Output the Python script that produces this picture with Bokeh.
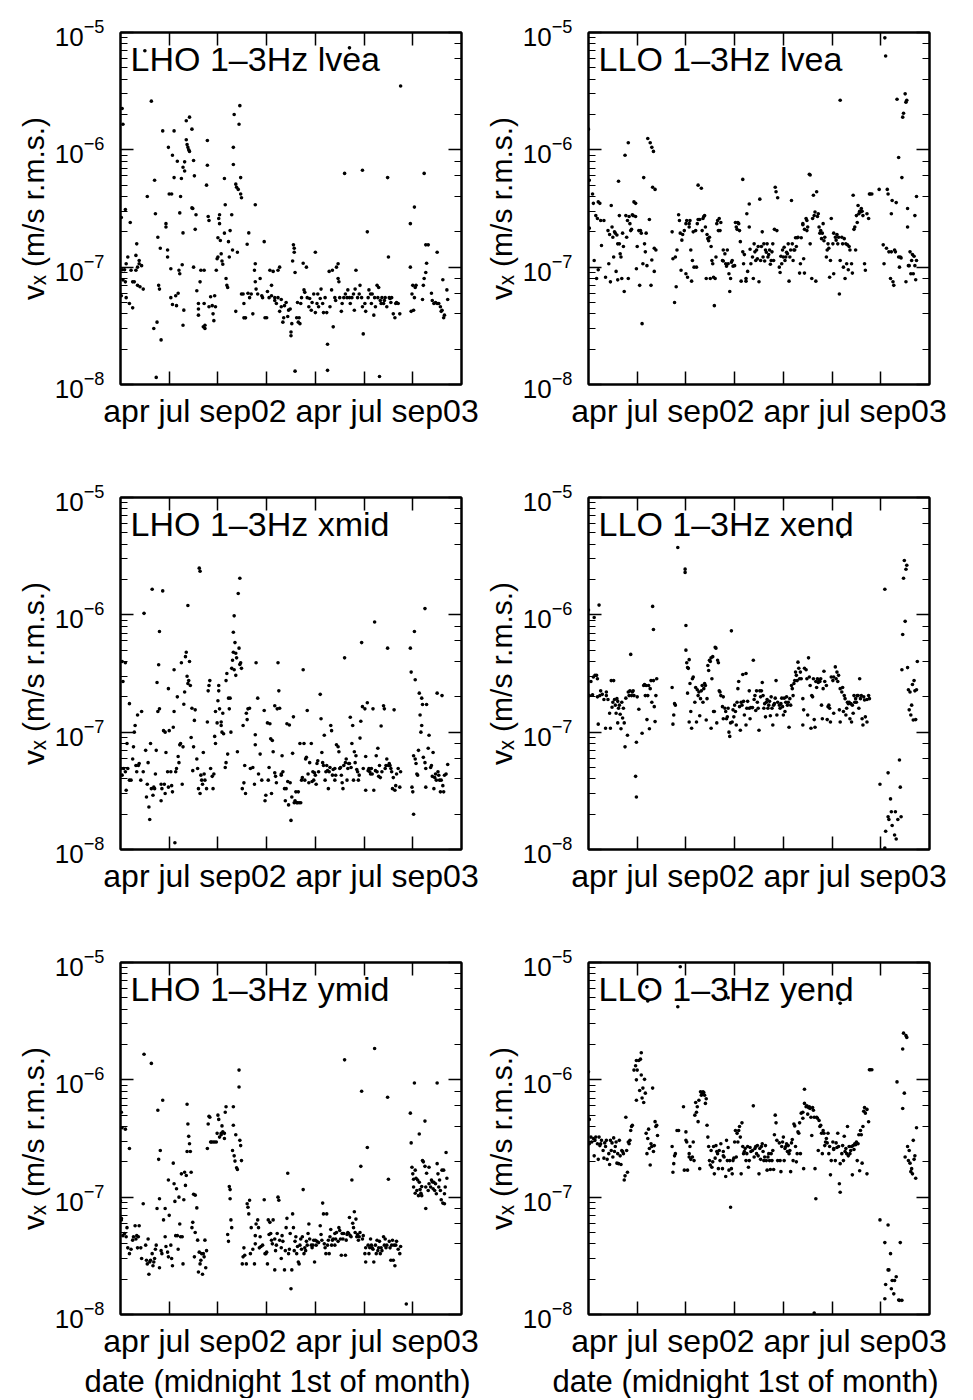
from bokeh.plotting import figure
from bokeh.models import Range1d, LinearAxis, LogAxis, FixedTicker, LogTicker, Label, Title
from bokeh.layouts import column, row
from bokeh.embed import file_html
from bokeh.resources import INLINE

FONT = "Liberation Sans"

# x: months since 1 Jan 2002 ; v: velocity in units of 1e-8 m/s
tick_months = [3, 6, 9, 12, 15, 18]
x_tick_text = "apr jul sep02 apr jul sep03"
x_axis_title = "date (midnight 1st of month)"
y_axis_title = "vₓ (m/s r.m.s.)"
panel_names = ["LHO 1–3Hz lvea", "LLO 1–3Hz lvea", "LHO 1–3Hz xmid",
               "LLO 1–3Hz xend", "LHO 1–3Hz ymid", "LLO 1–3Hz yend"]

lho_lvea = [(0.1,225),(0.15,165),(0.05,26.5),(0.3,31),(0.6,24),(0.1,9.5),(0.25,9.5),(0.35,10.7),(0.15,7.8),(0.3,7.5),
(0.05,5.7),(0.35,5.5),(0.55,4.9),(0.75,4.5),(0.85,7.5),(0.95,9.4),(0.95,12.6),(1.0,15.8),(1.05,10),(1.15,10.7),
(1.3,10.3),(1.15,11.4),(1.05,7),(1.2,6.8),(1.4,6.5),(0.45,12.2),(0.65,9.4),(0.75,7.5),
(1.65,40),(1.9,260),(2.1,55),(2.15,28.5),(2.05,3.0),(2.25,3.4),(2.3,18),(2.35,7),(2.4,6.5),(2.45,14.5),(2.5,2.4),
(2.2,1.15),(2.6,145),(2.8,22),(2.8,23.5),(2.9,14),(2.9,12.2),(2.95,105),(3.0,42),(3.1,9.7),(3.15,42),(3.1,5.5),
(3.2,90),(3.2,4.8),(3.3,145),(3.3,58),(3.4,5.7),(3.45,4.7),(3.5,80),(3.55,6),(3.6,9.4),(3.65,8.8),(3.65,29),
(3.7,40),(3.75,57),(3.8,10.5),(3.85,19.6),(3.85,3.2),(3.85,71),(3.95,79),(3.95,66),(3.9,4.3),(4.05,177),(4.05,122),
(4.1,111),(4.15,105),(4.2,100),(4.25,190),(4.25,97),(4.4,150),(4.4,32),(4.45,31.6),(4.5,10),(4.5,81),(4.55,60),
(4.6,21),(4.65,28),(4.7,6.3),(4.8,4.9),(4.8,4.4),(4.8,3.9),(4.9,7.5),(4.95,9.4),(5.15,9.4),(5.1,3.1),(5.2,3.2),
(5.2,3.0),(5.15,4.9),(5.35,120),(5.35,74),(5.3,50),(5.4,27),(5.45,25),(5.45,4.6),(5.55,5.6),(5.65,4.7),(5.7,4),
(5.75,3.5),(5.8,5.7),(5.85,4.6),(5.9,9.4),(5.95,11.8),(6.0,12.2),(6.0,17.8),(6.05,26),(6.1,28),(6.1,23.5),
(6.15,16.9),(6.2,13),(6.25,11.3),(6.3,10.6),(6.4,19.5),(6.4,57),(6.45,34),(6.5,8),(6.55,7),(6.6,6.7),(6.65,16.5),
(6.7,12.2),(6.75,20.5),(6.85,28),(6.9,14),(6.95,105),(6.95,75),(7.0,200),(7.1,51),(7.15,48),(7.2,13.4),(7.25,46),
(7.3,165),(7.35,238),(7.4,58),(7.4,42),(7.45,39),(7.1,4.2),(7.45,5.9),(7.55,5.9),(7.6,4.9),(7.6,3.7),(7.7,3.7),
(7.8,15.7),(7.85,6),(7.9,19.6),(7.95,5.5),(8.05,5.9),(8.15,4),(8.25,9.4),(8.3,10.7),(8.3,34),(8.3,7.5),(8.35,6.5),
(8.45,5.9),(8.6,8),(8.7,5.7),(8.75,5.5),(8.85,16.5),(8.9,3.7),(9.0,3.7),(9.05,6.2),(9.15,5.5),(9.2,9.4),(9.3,7),
(9.3,5.7),(9.4,9.2),(9.5,5.2),(9.5,5.5),(9.6,4.9),(9.7,9.4),(9.7,5.5),(9.8,10),(9.8,4.2),(9.9,4.6),(9.9,5.3),
(10.0,3.4),(10.05,3.7),(10.1,4.7),(10.2,5.0),(10.3,3.8),(10.35,4.3),(10.45,4.4),(10.5,2.8),(10.5,2.6),(10.55,3.3),
(10.6,11.3),(10.65,15.5),(10.7,14.5),(10.7,13.4),(10.75,9),(10.75,1.3),(10.85,3.7),(10.9,5),(10.95,3.4),(11.0,3.7),
(11.05,3.3),(11.1,4.9),(11.15,5.5),(11.25,10.8),(11.3,6.4),(11.35,6.1),(11.45,10),(11.5,5.5),(11.6,4.6),(11.65,5.4),
(11.75,4.3),(11.8,5),(11.9,5.9),(12.0,4.1),(12.0,13.4),(12.1,4.9),(12.15,5.9),(12.2,4.6),(12.3,5.4),(12.35,6.5),
(12.45,4.9),(12.5,4.1),(12.6,5.5),(12.7,4.1),(12.75,2.2),(12.75,1.32),(12.85,9.2),(12.9,4.6),(13.0,6.4),(13.05,9.4),
(13.1,3.1),(13.2,5.5),(13.25,5.2),(13.3,10),(13.4,10.7),(13.4,8),(13.45,7.5),(13.5,5.5),(13.6,4.2),(13.65,4.9),
(13.75,5.5),(13.8,63),(13.85,5.9),(13.95,5.5),(14.0,6.4),(14.1,5.5),(14.15,4.9),(14.25,5.5),(14.35,5.9),(14.4,4.3),
(14.45,6.5),(14.5,9.4),(14.6,5.5),(14.7,5.9),(14.75,7),(14.85,5.5),(14.9,67),(14.9,4.6),(14.95,2.7),(15.05,4.9),
(15.1,4.2),(15.2,20),(15.25,5.5),(15.3,6.4),(15.4,5.9),(15.45,4.9),(15.5,5.9),(15.6,3.9),(15.65,5.5),(15.7,4.6),
(15.8,7),(15.85,5.5),(15.9,6.7),(15.95,1.17),(16.0,5.2),(16.05,4.9),(16.1,5.5),(16.2,4.9),(16.25,5.2),(16.3,5.5),
(16.4,4.6),(16.45,58),(16.5,12.2),(16.55,5.5),(16.6,5.4),(16.65,5),(16.7,5.5),(16.8,4),(16.9,3.7),(16.95,4.9),
(17.0,5),(17.1,4.9),(17.2,4),(17.25,350),(17.85,23.5),(17.85,10),(17.9,4.2),(17.95,5.9),(18.0,7),(18.05,4.3),
(18.1,32.5),(18.1,5.5),(18.15,6.7),(18.2,7),(18.6,5.3),(18.65,7),(18.7,63),(18.7,8),(18.8,15.5),(18.8,9),
(18.85,10.8),(18.95,15.5),(19.15,6),(19.2,5.2),(19.3,4.9),(19.4,5),(19.5,13.4),(19.5,4.9),(19.6,4.9),(19.7,4.6),
(19.75,4.2),(19.8,4.3),(19.85,7.8),(19.9,3.7),(19.95,3.9),(20.1,6.4),(20.15,5.3),(1.5,700),(14.1,740)]

llo_lvea = [(0.0,150),(0.05,55),(0.05,21.5),(0.25,42),(0.3,35),(0.35,11.4),(0.45,27.5),(0.55,26),(0.6,36),(0.7,35),
(0.75,25),(0.6,9.5),(0.5,8),(0.8,15.3),(0.95,25),(1.05,8.2),(1.2,20.5),(1.25,10.7),(1.3,19),(1.35,7.5),(1.4,33.5),
(1.45,22),(1.5,18),(1.55,12.2),(1.6,20),(1.65,19.5),(1.7,9.2),(1.75,18.8),(1.8,15.8),(1.8,7.8),(1.85,54),(1.9,27.5),
(1.9,15.8),(1.95,13),(2.0,12.2),(2.05,8),(2.1,19.5),(2.15,15),(2.2,6.2),(2.25,90),(2.3,27.5),(2.35,18),(2.4,25),
(2.45,8),(2.45,115),(2.5,27),(2.55,23.5),(2.6,20.5),(2.65,21),(2.7,28),(2.75,27.5),(2.8,36),(2.9,35),(2.9,27),
(2.95,9.7),(3.0,15),(3.1,20.5),(3.15,7),(3.2,20.5),(3.25,19.5),(3.3,3.3),(3.35,10.7),(3.4,58),(3.45,15.8),(3.5,13.5),
(3.55,19.5),(3.6,10.3),(3.65,125),(3.75,25.5),(3.8,115),(3.85,7),(3.9,105),(3.9,11.5),(3.95,48),(4.0,97),(4.05,14.5),
(4.1,46),(4.15,14),(4.05,9.2),(5.15,20),(5.2,11.8),(5.3,5),(5.35,12.2),(5.4,6.8),(5.45,14),(5.55,28),(5.6,25),
(5.65,19.5),(5.7,9.4),(5.75,17),(5.8,19),(5.9,20.5),(6.0,8.8),(6.0,23.5),(6.05,25),(6.1,8.2),(6.2,22),(6.2,23.5),
(6.25,25),(6.3,14),(6.35,7.6),(6.4,11.4),(6.45,20),(6.5,10),(6.6,20.5),(6.65,10),(6.7,23.5),(6.75,50),(6.75,25.5),
(6.85,25.5),(6.95,47),(7.0,20.5),(7.05,26),(7.1,27),(7.15,27.5),(7.2,22),(7.25,8),(7.3,19),(7.35,17.5),(7.4,16.8),
(7.45,18),(7.5,8),(7.55,15),(7.6,11.4),(7.65,10.7),(7.7,8.2),(7.75,4.7),(7.8,8),(7.85,12.2),(7.9,23.5),(7.95,25),
(8.0,20.5),(8.05,26),(8.1,20.5),(8.15,24),(8.25,11.4),(8.3,14),(8.3,11.3),(8.4,13),(8.45,10.7),(8.5,10.2),(8.55,14),
(8.6,10.7),(8.65,8.8),(8.7,6.2),(8.75,8),(8.8,11),(8.85,11.4),(8.9,10.2),(9.0,10.3),(9.05,24),(9.1,22),(9.15,21),
(9.2,24),(9.25,23.5),(9.3,20.5),(9.35,16.5),(9.4,7.6),(9.5,56),(9.5,13.5),(9.55,10.7),(9.6,12.8),(9.7,7.6),(9.7,8),
(9.75,28.5),(9.8,9.2),(9.9,34.5),(9.9,22),(9.95,14.2),(10.0,10.7),(10.1,12.2),(10.15,8),(10.2,15.8),(10.25,13.5),
(10.3,11.4),(10.35,14),(10.4,11.8),(10.45,15),(10.5,7.5),(10.55,38),(10.6,11.4),(10.65,15),(10.7,20),(10.75,12.2),
(10.8,15.8),(10.85,11.3),(10.9,14),(10.95,13.4),(11.0,15.8),(11.05,12.2),(11.1,12.8),(11.15,14),(11.2,10.6),
(11.25,11.4),(11.3,13.5),(11.35,15.8),(11.4,11.4),(11.45,21),(11.5,48),(11.55,44),(11.6,20.5),(11.65,39),(11.75,10),
(11.8,9),(11.85,12.4),(11.9,10.7),(11.95,14),(12.0,12.2),(12.05,14.8),(12.1,11.4),(12.15,12.2),(12.2,13.4),(12.25,13),
(12.3,15.8),(12.35,7.6),(12.4,12.2),(12.45,14),(12.5,37),(12.55,15.8),(12.6,11.4),(12.65,14),(12.7,14),(12.75,17.8),
(12.8,15),(12.85,17.8),(12.9,18),(13.0,8.9),(13.05,10.7),(13.1,17.8),(13.2,23),(13.2,23.5),(13.25,11.8),(13.3,8.9),
(13.3,21),(13.4,26),(13.45,25),(13.45,20.5),(13.5,22),(13.6,62),(13.65,61),(13.65,15.8),(13.75,8),(13.8,26),(13.85,41),
(13.9,27.5),(13.95,29.5),(14.0,7.6),(14.05,44),(14.1,27),(14.15,28.5),(14.2,22),(14.25,19.5),(14.3,20.5),(14.35,17.5),
(14.4,19.5),(14.45,23.5),(14.5,16.8),(14.55,18),(14.65,12.2),(14.7,14),(14.75,15.8),(14.8,14.5),(14.85,8.2),(14.9,11.4),
(14.95,26),(15.05,15.8),(15.1,8.8),(15.1,19.5),(15.2,18),(15.25,17),(15.3,19),(15.35,15.8),(15.4,18),(15.45,5.9),
(15.5,265),(15.5,11.4),(15.6,18),(15.65,15.8),(15.7,10),(15.75,17.5),(15.8,8),(15.85,15.8),(15.9,10.7),(15.95,15.5),
(16.0,9.5),(16.05,15),(16.1,14),(16.2,10.7),(16.25,8.9),(16.3,41),(16.35,21),(16.4,22),(16.45,14),(16.5,27.5),
(16.55,24),(16.6,33.5),(16.65,28.5),(16.7,30),(16.75,29.5),(16.8,31.6),(16.85,30),(16.9,27.5),(17.0,10.7),(17.05,9.4),
(17.15,28.5),(17.25,26),(17.3,42),(17.35,42),(17.45,42),(17.9,46),(18.15,15.5),(18.2,10.7),(18.25,900),(18.3,630),
(18.35,14.5),(18.4,46),(18.45,42),(18.5,13.5),(18.6,8),(18.65,28.5),(18.65,13.5),(18.7,37),(18.75,7.5),(18.8,7),
(18.85,14),(18.9,13.5),(18.95,35.5),(19.0,270),(19.1,86),(19.1,12.2),(19.15,10),(19.2,12.2),(19.25,12),(19.3,58),
(19.35,190),(19.4,205),(19.5,300),(19.55,255),(19.6,265),(19.65,31.6),(19.65,22),(19.7,10.3),(19.75,10.3),(19.8,13.5),
(19.85,8.8),(19.9,11.4),(19.95,12.8),(20.0,8.8),(20.05,12.4),(20.1,27.5),(20.15,7.8),(20.2,11.4),(20.2,40),(19.55,7.5),
(20.1,10.3)]

lho_xmid = [(0.1,40),(0.15,27),(0.3,39),(0.05,4.9),(0.1,4.3),(0.2,4.9),(0.3,4.6),(0.35,3.2),(0.4,8),(0.45,4.9),
(0.55,3.9),(0.55,17.5),(0.65,3.9),(0.75,5.9),(0.8,7.5),(0.85,10),(0.9,11.4),(0.95,5.2),(1.0,4.6),(1.05,14),(1.1,5.2),
(1.15,5.4),(1.25,3.9),(1.3,15),(1.4,4.6),(1.45,103),(1.55,7),(1.6,2.8),(1.65,3.6),(1.7,5.5),(1.75,2.3),(1.8,1.8),
(1.85,8),(1.9,3.3),(1.95,165),(2.0,2.9),(2.05,3.4),(2.1,3.3),(2.15,4.4),(2.2,7),(2.25,26.5),(2.3,15),(2.35,37.5),
(2.4,72),(2.4,15.8),(2.5,2.6),(2.5,3.6),(2.55,3.3),(2.6,160),(2.65,10.3),(2.7,3.6),(2.75,3.0),(2.75,10),(2.8,6.7),
(2.9,4.6),(2.95,3.4),(2.95,23.5),(3.0,10.3),(3.1,4.6),(3.15,3.5),(3.2,3.1),(3.25,11),(3.3,15),(3.3,34),(3.35,1.14),
(3.4,4.6),(3.45,4.9),(3.5,20),(3.55,6.2),(3.6,5.5),(3.65,7.8),(3.7,8),(3.75,39),(3.8,3.6),(3.85,7.5),(3.9,17.3),
(3.95,22),(4.0,44),(4.05,48),(4.1,30),(4.15,120),(4.15,26),(4.2,27.5),(4.25,40),(4.3,25),(4.35,9),(4.4,16),(4.45,4.7),
(4.5,7.5),(4.55,12.6),(4.6,15.5),(4.7,5.9),(4.75,4.9),(4.8,3.3),(4.85,250),(4.9,235),(4.9,3.0),(4.95,4.3),(5.0,3.9),
(5.05,3.6),(5.1,6.7),(5.15,4.4),(5.2,3.9),(5.3,3.3),(5.35,12.2),(5.4,22.5),(5.45,25),(5.5,27.5),(5.55,4.9),(5.65,4.2),
(5.7,3.3),(5.75,4.4),(5.8,9.2),(5.85,15),(5.85,8),(5.95,12),(6.0,18.5),(6.05,22.5),(6.05,25),(6.1,15.8),(6.2,11.4),
(6.2,12.2),(6.25,10),(6.3,14.5),(6.35,9.7),(6.45,5),(6.5,5.5),(6.5,27.5),(6.55,31.6),(6.6,6.5),(6.65,19.5),(6.7,15.8),
(6.75,19.5),(6.8,10),(6.85,35),(6.9,41),(6.95,71),(6.95,48),(7.0,98),(7.0,34),(7.05,58),(7.1,47),(7.1,30.5),(7.15,43),
(7.2,6.8),(7.25,152),(7.3,52),(7.35,205),(7.35,37.8),(7.4,39),(7.45,35),(7.5,3.3),(7.55,11.4),(7.6,3.7),(7.65,5.2),
(7.7,3.0),(7.75,14.5),(7.8,12.8),(7.85,15.8),(7.95,16),(8.0,4.9),(8.15,5.0),(8.25,3.6),(8.3,7.8),(8.3,9.5),(8.35,39),
(8.45,19.5),(8.5,4.4),(8.6,6.5),(8.7,3.9),(8.85,15.3),(8.9,2.6),(8.95,2.9),(9.05,12),(9.1,3.9),(9.15,5),(9.2,11.8),
(9.25,8.8),(9.3,3.0),(9.35,8.5),(9.4,6.8),(9.5,4.5),(9.5,16.8),(9.55,4.2),(9.6,3.7),(9.65,15.8),(9.7,39),(9.75,22.5),
(9.8,16),(9.9,4.4),(9.9,4.3),(9.95,6.3),(10.0,4.6),(10.1,3.3),(10.15,2.6),(10.2,3.3),(10.25,11.8),(10.3,3.8),(10.35,2.4),
(10.4,11.5),(10.45,3.7),(10.5,1.77),(10.55,2.8),(10.6,6.6),(10.65,13.5),(10.7,2.5),(10.75,2.6),(10.8,3.1),(10.85,2.5),
(10.9,2.5),(10.95,3.1),(11.0,2.5),(11.05,8),(11.1,2.5),(11.15,3.9),(11.2,4.1),(11.25,34),(11.3,8),(11.35,3.9),(11.4,5.9),
(11.45,6.1),(11.5,15.3),(11.55,4.4),(11.6,3.7),(11.65,5.5),(11.75,8),(11.8,3.8),(11.85,4.6),(11.9,3.9),(11.95,4.5),
(12.0,4.3),(12.05,3.6),(12.1,5.4),(12.15,5.7),(12.2,4.6),(12.3,21),(12.35,13),(12.4,6.7),(12.45,5.5),(12.5,5.2),
(12.55,9.4),(12.6,3.9),(12.65,4.6),(12.7,5.2),(12.75,4.7),(12.8,3.3),(12.85,4.6),(12.9,5),(12.95,11.4),(13.0,10.3),
(13.05,4.3),(13.1,4.8),(13.2,3.9),(13.2,4.9),(13.25,4.3),(13.3,7.8),(13.4,7.5),(13.45,6.8),(13.5,4.9),(13.55,5),
(13.6,4.3),(13.65,3.7),(13.7,3.3),(13.75,5.2),(13.8,43),(13.85,5.5),(13.9,5.9),(13.95,3.9),(14.0,4.9),(14.05,5.4),
(14.1,5.4),(14.15,13.4),(14.2,5),(14.25,8),(14.3,11.4),(14.35,3.9),(14.4,6.8),(14.45,5.5),(14.5,6.3),(14.55,4.8),
(14.6,4.6),(14.65,3.9),(14.7,4.3),(14.75,8.9),(14.8,12.4),(14.85,58),(14.9,16.5),(14.95,4.9),(15.05,15.8),(15.1,3.2),
(15.1,6.2),(15.2,17.8),(15.25,4.7),(15.3,4.9),(15.35,4.6),(15.4,4.4),(15.45,4.9),(15.5,4.4),(15.55,15.8),(15.6,3.2),
(15.65,87),(15.7,4.7),(15.75,6.3),(15.8,4.6),(15.85,7.3),(15.9,4.2),(15.95,5.2),(16.0,4.1),(16.05,11.3),(16.1,4.6),
(16.2,16.8),(16.25,15.8),(16.3,4.9),(16.35,5.2),(16.4,5.9),(16.45,52),(16.5,5.2),(16.55,5.4),(16.6,5.2),(16.65,4.9),
(16.7,4.6),(16.75,3.3),(16.8,4.1),(16.85,15.5),(16.9,3.2),(16.95,3.5),(17.0,4.4),(17.1,4.9),(17.2,3.4),(17.25,4.6),
(17.85,52),(17.9,32.5),(17.95,3.4),(18.0,3.1),(18.05,2.0),(18.05,6.3),(18.1,72),(18.15,28),(18.15,5.9),(18.2,5.4),
(18.25,4.4),(18.3,4.3),(18.35,7),(18.4,21.5),(18.45,14),(18.5,10),(18.55,19.5),(18.55,11.4),(18.6,17.2),(18.65,6.1),
(18.75,113),(18.75,5.5),(18.8,3.4),(18.8,4.9),(18.85,17.2),(18.95,7.3),(19.0,9.4),(19.1,5),(19.15,5.2),(19.2,4.2),
(19.25,6.7),(19.3,3.3),(19.35,4.1),(19.4,4.4),(19.45,3.9),(19.5,21.5),(19.55,4.6),(19.6,4.3),(19.65,3.9),(19.7,3.1),
(19.75,3.9),(19.8,20.5),(19.85,3.5),(19.9,3.1),(19.95,4.3),(20.05,4.4),(20.15,5.3)]

llo_xend = [(0.0,110),(0.05,20.5),(0.15,27),(0.25,20.8),(0.3,29.5),(0.35,95),(0.4,30.5),(0.5,30.5),(0.55,28.5),(0.55,20),
(0.6,11.7),(0.65,121),(0.7,20.5),(0.75,22.5),(0.85,21),(0.95,19),(1.05,10.8),(1.1,22),(1.1,20.5),(1.2,19),(1.3,14.5),
(1.35,10.8),(1.4,27.5),(1.45,16.3),(1.5,18),(1.55,27.5),(1.6,19),(1.65,17),(1.7,14.5),(1.75,19.3),(1.8,18.3),(1.8,12),
(1.85,16),(1.9,17),(1.95,14.2),(2.0,10.7),(2.05,18),(2.1,13.2),(2.15,16),(2.2,12),(2.25,7.5),(2.3,19.5),(2.4,9.4),
(2.45,22),(2.5,20.5),(2.55,22.5),(2.6,46),(2.65,20.5),(2.7,22),(2.75,22.5),(2.8,20.5),(2.9,4.2),(2.95,2.8),(2.95,8.2),
(3.0,20),(3.1,15.7),(3.3,9.8),(3.4,25),(3.45,25.5),(3.5,20.5),(3.55,25),(3.6,12.8),(3.65,20.5),(3.7,25),(3.75,10.7),
(3.8,23.5),(3.85,27.5),(3.9,18),(3.95,118),(4.0,75),(4.0,27.5),(4.05,16.5),(4.1,12.3),(4.15,20.5),(4.2,28.5),
(5.15,24),(5.2,11.7),(5.25,14),(5.3,17.5),(5.35,17),(5.5,375),(5.95,245),(5.95,230),(6.0,81),(6.0,50),(6.05,39),
(6.1,35.5),(6.15,35),(6.1,21.5),(6.2,41.5),(6.2,12.2),(6.25,26),(6.3,15),(6.35,10.8),(6.4,28.5),(6.45,29.5),(6.55,18),
(6.6,24),(6.65,12.2),(6.7,23),(6.75,20.5),(6.8,22),(6.85,13.8),(6.9,19.3),(6.95,22.5),(7.0,25),(7.05,18),(7.1,23.5),
(7.15,26),(7.2,25),(7.25,12.7),(7.3,19.3),(7.35,37),(7.4,33.5),(7.45,41),(7.5,40),(7.55,10.8),(7.55,43),(7.6,28.5),
(7.65,44),(7.7,15),(7.75,15),(7.8,53),(7.85,52),(7.9,12),(7.95,41),(8.0,39),(8.05,22.5),(8.1,22),(8.15,20.5),
(8.25,16.5),(8.3,20),(8.3,13),(8.4,16),(8.45,15),(8.5,13),(8.55,13.5),(8.6,16),(8.65,10),(8.7,9.2),(8.75,12),(8.8,73),
(8.85,12.2),(8.9,15.5),(8.95,13.5),(9.0,17),(9.05,15),(9.1,11.5),(9.15,18),(9.2,23.5),(9.25,27),(9.3,16.5),(9.35,10.4),
(9.4,18),(9.45,17),(9.5,31),(9.55,18.3),(9.6,14),(9.7,11.5),(9.7,31.6),(9.75,16),(9.8,18.3),(9.9,16),(9.9,22.5),
(9.95,13),(10.0,16.2),(10.1,16.2),(10.15,41),(10.2,19),(10.25,20.5),(10.3,15.3),(10.35,22.5),(10.4,18),(10.45,16),
(10.5,10.4),(10.55,22.5),(10.6,20),(10.65,22.5),(10.7,26.5),(10.75,20.5),(10.8,16),(10.85,17.5),(10.9,13.5),(10.95,18),
(11.0,19),(11.05,16),(11.1,17),(11.15,18.3),(11.2,13.8),(11.25,20),(11.3,16),(11.35,11.5),(11.4,17),(11.45,17.5),
(11.5,19.5),(11.55,27.5),(11.6,14),(11.65,18),(11.75,17),(11.8,16),(11.85,17.5),(11.9,19.5),(11.95,16.5),(12.0,14),
(12.05,19.5),(12.1,15),(12.15,18),(12.2,20),(12.25,17),(12.3,18),(12.35,11),(12.4,19.3),(12.45,17),(12.5,25),
(12.55,23.5),(12.6,20.5),(12.65,26),(12.7,27.5),(12.75,32.5),(12.8,30.5),(12.85,27.5),(12.9,39.5),(12.95,35),(13.0,28.5),
(13.05,32.5),(13.1,28.5),(13.2,19.3),(13.2,11.5),(13.25,15.5),(13.3,35),(13.4,34),(13.45,28.5),(13.5,14),(13.55,43),
(13.6,29.5),(13.65,25),(13.7,10.8),(13.75,20.5),(13.8,20),(13.85,28.5),(13.9,12.8),(13.95,11),(14.0,27),(14.05,24),
(14.1,28.5),(14.15,26.5),(14.2,27.5),(14.25,27),(14.3,28.5),(14.35,17),(14.4,13),(14.45,23.5),(14.5,33),(14.55,27),
(14.65,25),(14.7,12.8),(14.75,16.5),(14.8,17),(14.85,16),(14.9,12.2),(14.95,29.5),(15.05,27.5),(15.1,29.5),(15.1,14.5),
(15.2,36),(15.25,28.5),(15.3,32.5),(15.35,27),(15.4,30.5),(15.45,15.5),(15.5,23.5),(15.5,12.2),(15.6,22),(15.65,24),
(15.7,15),(15.75,20.5),(15.8,19.3),(15.85,14),(15.9,16),(15.95,18),(16.0,17.5),(16.05,18),(16.1,13),(16.15,17.5),
(16.2,12.2),(16.25,17),(16.3,14.5),(16.35,20.5),(16.4,18),(16.45,19.3),(16.5,18),(16.55,20.5),(16.6,20.5),(16.65,16),
(16.7,28.5),(16.75,19.3),(16.8,20.5),(16.85,13),(16.9,11.5),(16.95,20),(17.0,18.8),(17.05,13.5),(17.15,19),(17.15,12.2),
(17.25,20.5),(17.3,19.3),(17.95,3.6),(18.25,165),(18.3,1.43),(18.45,4.5),(18.45,1.9),(18.5,1.8),(18.6,2.7),(18.65,2.1),
(18.7,1.6),(18.85,1.33),(18.9,2.1),(18.95,1.23),(19.05,1.8),(19.15,5.8),(19.2,3.4),(19.25,1.9),(19.3,34),(19.35,68),
(19.4,205),(19.45,290),(19.5,88),(19.55,245),(19.6,265),(19.65,35.5),(19.7,23),(19.75,15.5),(19.8,22),(19.85,14),
(19.9,17),(19.95,25.5),(20.0,12.7),(20.05,27.5),(20.1,22.5),(20.15,12.8),(20.2,23),(20.25,40),(18.25,1.03),(15.6,465)]

lho_ymid = [(0.05,53),(0.1,39),(0.3,38),(0.05,6.4),(0.15,4.7),(0.25,4.9),(0.35,4.6),(0.4,5.5),(0.45,3.7),(0.55,3.3),
(0.55,26),(0.65,3.6),(0.75,4.3),(0.8,4.6),(0.9,5.7),(0.95,4.4),(1.0,4.7),(1.05,3.7),(1.1,4.6),(1.15,5.7),(1.25,3.7),
(1.3,3.0),(1.4,8.8),(1.45,165),(1.55,3.9),(1.6,2.9),(1.65,2.7),(1.7,4.4),(1.75,2.2),(1.8,2.8),(1.85,2.9),(1.9,138),
(1.95,3.3),(2.0,2.6),(2.05,2.8),(2.1,3.0),(2.15,3.6),(2.2,3.9),(2.25,8),(2.3,55),(2.35,21),(2.4,9.7),(2.4,2.5),(2.45,25),
(2.5,3.5),(2.55,3.3),(2.6,67),(2.65,6.4),(2.75,8),(2.75,4.6),(2.8,3.8),(2.9,3.4),(2.95,3.1),(2.95,14),(3.0,7),(3.1,3.9),
(3.15,3.0),(3.2,2.6),(3.25,19.5),(3.3,13),(3.35,9.2),(3.4,4.7),(3.45,11.8),(3.5,4.7),(3.55,3.6),(3.6,10),(3.65,5.9),
(3.7,4.6),(3.75,15.8),(3.8,4.6),(3.85,2.7),(3.9,9.5),(3.95,16.3),(4.0,12.6),(4.05,15.3),(4.1,24.5),(4.1,62),(4.15,42),
(4.2,33),(4.25,28.5),(4.3,24.5),(4.35,16.3),(4.4,5.5),(4.45,6.1),(4.5,10.6),(4.55,3.1),(4.6,10.4),(4.6,5),(4.7,8.1),
(4.75,4.3),(4.8,2.3),(4.85,3.4),(4.9,2.7),(4.95,2.9),(5.0,3.3),(5.05,2.2),(5.1,3.3),(5.15,3.1),(5.2,4.3),(5.25,2.5),
(5.3,3.5),(5.35,26),(5.4,42),(5.45,49),(5.5,48),(5.55,29.5),(5.6,29.5),(5.7,29.5),(5.8,29.5),(5.9,29.5),(5.95,35),
(6.0,50),(6.05,46),(6.1,32.5),(6.2,34),(6.2,35),(6.25,40.5),(6.3,36),(6.4,31.6),(6.4,35),(6.45,53),(6.5,59),(6.6,4.8),
(6.65,4.2),(6.7,12.3),(6.75,11.6),(6.75,9.7),(6.8,6.4),(6.85,5.5),(6.9,25),(6.95,41),(6.95,59),(7.0,22.5),(7.05,20.3),
(7.1,34),(7.15,17.8),(7.2,17.2),(7.3,121),(7.3,87),(7.35,30.5),(7.4,27.5),(7.45,20.5),(7.5,2.7),(7.55,3.1),(7.6,3.7),
(7.65,3.2),(7.75,2.7),(7.8,8.8),(7.85,8.2),(7.9,7.2),(7.95,9.4),(8.0,3.3),(8.05,5.5),(8.15,3.6),(8.25,2.7),(8.3,4),
(8.3,4.7),(8.35,5.9),(8.45,6.4),(8.5,5.5),(8.55,3.7),(8.6,4.6),(8.65,3.8),(8.75,3.9),(8.85,9.5),(8.9,3.3),(8.95,3.3),
(9.0,3.4),(9.05,2.7),(9.1,6.4),(9.15,4.8),(9.2,6.1),(9.25,4.9),(9.3,4.3),(9.35,4),(9.4,6.4),(9.5,4.4),(9.5,2.4),
(9.55,3.5),(9.6,3.9),(9.65,4.9),(9.7,10),(9.75,9.4),(9.8,4.3),(9.9,3.7),(9.9,3.0),(9.95,4.7),(10.0,4.2),(10.1,2.4),
(10.15,3.5),(10.2,5.5),(10.25,6.6),(10.3,16),(10.35,3.3),(10.4,3.6),(10.45,4.9),(10.5,1.66),(10.55,2.4),(10.6,7.2),
(10.65,5.5),(10.7,3.5),(10.75,4.2),(10.8,4.6),(10.85,3.3),(10.9,3.8),(10.95,2.8),(11.0,2.7),(11.05,3.9),(11.1,4.4),
(11.15,3.6),(11.2,4.6),(11.25,11.6),(11.3,3.3),(11.35,3.7),(11.4,3.5),(11.45,4.2),(11.5,3.9),(11.55,4.9),(11.6,5.9),
(11.65,4.4),(11.75,3.9),(11.8,3.7),(11.85,3.9),(11.9,4.3),(11.95,2.8),(12.0,4.3),(12.05,3.9),(12.1,4.2),(12.2,4.1),
(12.3,5.7),(12.35,4.8),(12.4,4.3),(12.45,8.9),(12.5,7.2),(12.55,4),(12.6,3.7),(12.65,3.3),(12.7,7.2),(12.75,3.9),
(12.8,4.3),(12.85,3.3),(12.9,4.6),(12.95,5.3),(13.0,3.9),(13.05,4.3),(13.1,4.4),(13.2,3.9),(13.2,4.9),(13.25,4.4),
(13.3,5),(13.4,4.2),(13.45,5.5),(13.5,5.2),(13.55,4.4),(13.6,3.2),(13.65,4.9),(13.7,4.4),(13.75,4.9),(13.8,148),
(13.85,3.2),(13.9,4.3),(13.95,4.8),(14.0,5),(14.05,4.9),(14.1,6.7),(14.15,4.7),(14.2,4.6),(14.25,14),(14.3,6),(14.35,5.5),
(14.4,7.5),(14.45,5),(14.5,6.5),(14.55,4.6),(14.6,4.8),(14.65,4.3),(14.7,4.6),(14.75,5),(14.8,18.3),(14.85,80),(14.9,4.4),
(14.95,4.7),(15.05,3.3),(15.1,3.7),(15.1,2.8),(15.2,26.5),(15.25,3.9),(15.3,3.3),(15.35,3.7),(15.4,4.4),(15.45,3.9),
(15.5,3.7),(15.55,3.6),(15.6,2.8),(15.65,185),(15.7,3.9),(15.75,3.3),(15.8,4.3),(15.85,3.5),(15.9,3.7),(15.95,4.2),
(16.0,3.3),(16.05,3.7),(16.1,3.5),(16.2,4.6),(16.25,3.9),(16.3,4.4),(16.35,3.7),(16.4,3.9),(16.45,71),(16.5,14.2),
(16.55,4.2),(16.6,3.7),(16.65,2.9),(16.7,3.9),(16.75,4.3),(16.8,2.9),(16.85,3.9),(16.9,2.6),(16.95,3.9),(17.0,4.2),
(17.1,3.6),(17.2,3.3),(17.25,3.8),(17.6,1.23),(17.85,52),(17.9,29),(17.95,18),(18.0,15.8),(18.05,12.2),(18.05,14.2),
(18.1,94),(18.15,17),(18.15,10.8),(18.2,14.5),(18.25,11.4),(18.3,14),(18.35,10.3),(18.4,13.4),(18.4,34.5),(18.45,11.6),
(18.5,10.8),(18.55,12.3),(18.55,10.3),(18.6,20.5),(18.65,20),(18.75,44.5),(18.75,18.3),(18.8,12.2),(18.8,8),(18.85,16),
(18.95,11.4),(19.0,18),(19.0,13),(19.1,12.2),(19.15,14),(19.2,13.5),(19.25,11.8),(19.3,13.4),(19.35,11.4),(19.4,13),
(19.45,10.7),(19.5,94),(19.5,19.3),(19.55,15.8),(19.6,12.2),(19.65,14),(19.7,11.4),(19.75,9.5),(19.8,17),(19.85,8.9),
(19.9,17),(19.95,10.7),(20.0,12.2),(20.05,24),(20.1,14.5),(19.95,8.8),(0.0,9.3),(0.05,6.6)]

llo_yend = [(0.0,117),(0.05,46),(0.05,28.5),(0.15,32.5),(0.2,29.5),(0.3,31.6),(0.35,22.5),(0.4,30.5),(0.45,32.5),(0.55,28.5),
(0.6,21),(0.65,32.5),(0.7,27.5),(0.75,28.5),(0.8,30.5),(0.9,25),(0.95,21.5),(1.0,29),(1.05,27),(1.1,30.5),(1.15,21),
(1.25,23.5),(1.3,19),(1.35,30.5),(1.4,25),(1.45,29),(1.5,22),(1.55,32),(1.6,24.5),(1.65,27),(1.7,29.5),(1.75,19.5),
(1.8,23.5),(1.85,19.3),(1.9,30.5),(1.95,22.5),(2.0,19),(2.05,25),(2.1,24.5),(2.15,23.5),(2.2,14),(2.25,15.2),(2.3,48),
(2.35,25),(2.4,16.3),(2.45,29.5),(2.5,28.5),(2.55,30.5),(2.6,37),(2.65,40),(2.7,41),(2.8,121),(2.9,132),(2.95,146),
(2.95,67),(2.95,100),(3.0,121),(3.1,146),(3.15,81),(3.2,150),(3.25,170),(3.25,110),(3.3,70),(3.35,85),(3.4,64),
(3.45,101),(3.5,77),(3.55,35),(3.6,23.5),(3.65,31.6),(3.7,38),(3.75,26),(3.8,18.8),(3.85,28.5),(3.9,27),(3.95,85),
(4.0,24.5),(4.05,27.5),(4.1,44),(4.15,40),(4.2,41),(4.25,33.5),(5.15,27),(5.2,16.3),(5.25,19.3),(5.3,22.5),(5.35,23.5),
(5.45,37),(5.5,420),(5.55,37),(5.65,920),(5.85,59),(5.9,17),(6.0,30.5),(6.0,36),(6.05,29.5),(6.1,17),(6.2,22),
(6.2,23.5),(6.25,27),(6.3,21),(6.4,22),(6.45,29.5),(6.5,20.5),(6.55,50),(6.6,64),(6.65,53),(6.7,59),(6.75,44),(6.8,67),
(6.85,17.5),(6.9,79),(6.95,74),(7.0,76),(7.05,79),(7.1,78),(7.15,74),(7.2,63),(7.25,69),(7.3,41),(7.35,32.5),(7.4,27),
(7.45,20.5),(7.5,18.8),(7.55,25),(7.6,18),(7.65,20),(7.7,27),(7.75,15.8),(7.8,21.5),(7.85,27.5),(7.9,24.5),(7.95,23.5),
(8.0,17.5),(8.05,25),(8.1,20.5),(8.15,28.5),(8.25,17.5),(8.3,22.5),(8.3,24.5),(8.35,22),(8.45,15),(8.5,30.5),(8.55,20.5),
(8.6,26.5),(8.65,17),(8.7,20.5),(8.75,8.2),(8.8,17.5),(8.85,15.8),(8.9,20.5),(8.95,21.5),(9.0,29.5),(9.05,37),(9.1,22),
(9.15,35),(9.2,29.5),(9.25,37),(9.3,40),(9.35,32.5),(9.4,15.8),(9.45,43),(9.5,27),(9.55,23.5),(9.6,24.5),(9.65,26),
(9.7,20.5),(9.75,23.5),(9.8,27),(9.85,18),(9.9,20.5),(9.95,26.5),(10.0,24.5),(10.1,25),(10.15,60),(10.2,22),(10.25,26),
(10.3,27),(10.35,23.5),(10.4,27.5),(10.45,22.5),(10.5,15.8),(10.55,26),(10.6,21),(10.65,27),(10.7,28.5),(10.75,24.5),
(10.8,20.5),(10.85,22),(10.9,27.5),(10.95,20.5),(11.0,17),(11.05,22),(11.1,23.5),(11.15,20.5),(11.2,17.2),(11.25,23.5),
(11.3,20.5),(11.35,25),(11.4,17.2),(11.45,34),(11.5,50),(11.55,43),(11.6,30.5),(11.65,20.5),(11.75,29),(11.8,20.5),
(11.85,16.5),(11.9,27),(11.95,29.5),(12.0,32.5),(12.05,20.5),(12.1,26),(12.15,27),(12.2,28.5),(12.25,24.5),(12.3,27.5),
(12.35,23.5),(12.4,25),(12.45,16.5),(12.5,29),(12.55,31),(12.6,20.5),(12.65,42),(12.7,40.5),(12.75,27),(12.8,20),
(12.85,23.5),(12.9,36),(12.95,35),(13.0,43),(13.05,23.5),(13.1,52),(13.2,47),(13.2,53),(13.25,17.5),(13.3,83),(13.3,63),
(13.4,59),(13.45,60),(13.5,51),(13.55,58),(13.6,59),(13.65,57),(13.7,48),(13.75,33.5),(13.8,58),(13.85,55),(13.9,48),
(13.95,17.5),(14.0,9.7),(14.05,48),(14.1,47),(14.15,25),(14.2,45),(14.25,40),(14.3,41),(14.35,35),(14.4,23.5),(14.45,37),
(14.5,35),(14.55,27.5),(14.6,29.5),(14.65,31.6),(14.7,29),(14.75,35),(14.8,23.5),(14.85,27),(14.9,15.5),(14.95,20.5),
(15.05,29.5),(15.1,25.5),(15.1,26),(15.2,20.5),(15.25,29),(15.3,26.5),(15.35,35),(15.4,27),(15.45,13),(15.5,11),
(15.5,19.3),(15.6,23.5),(15.65,27.5),(15.7,20.5),(15.75,33),(15.8,24.5),(15.85,26),(15.9,23.5),(15.95,40),(16.0,22.5),
(16.05,27),(16.1,23.5),(16.15,25),(16.2,27),(16.25,15.5),(16.3,27.5),(16.35,25.5),(16.4,28.5),(16.45,28),(16.5,29.5),
(16.55,20.5),(16.6,28.5),(16.65,34),(16.7,16.8),(16.75,37),(16.8,34),(16.85,19.5),(16.9,40),(16.95,54),(17.0,58),
(17.05,52),(17.15,56),(17.15,15.8),(17.25,44),(17.3,122),(17.35,122),(17.45,122),(17.95,6.4),(18.25,4.1),(18.25,1.36),
(18.3,1.8),(18.45,5.8),(18.45,2.4),(18.5,2.4),(18.6,3.3),(18.65,1.66),(18.7,1.95),(18.8,1.5),(18.85,1.95),(18.95,2.1),
(19.0,96),(19.1,1.33),(19.15,1.32),(19.2,4.1),(19.3,1.32),(19.35,57),(19.35,183),(19.4,250),(19.45,77),(19.5,22),
(19.55,238),(19.6,230),(19.65,27),(19.7,20.5),(19.75,25),(19.8,19.5),(19.85,16.5),(19.9,17.5),(19.95,15.8),(20.0,30.5),
(20.05,21),(20.1,22.5),(20.15,14.5),(20.2,39),(13.9,1.03),(3.6,620),(3.65,470),(8.6,500),(15.5,450)]

panel_data = [lho_lvea, llo_lvea, lho_xmid, llo_xend, lho_ymid, llo_yend]


def make_panel(name, pts, bottom_row, right_col):
    xs = [p[0] for p in pts]
    vs = [p[1] * 1e-8 for p in pts]
    p = figure(frame_width=341, frame_height=352,
               x_range=Range1d(0, 21), y_range=Range1d(1e-8, 1e-5),
               y_axis_type="log", output_backend="svg", toolbar_location=None,
               min_border_left=106 if right_col else 120,
               min_border_right=18 if right_col else 20,
               min_border_top=32,
               min_border_bottom=84 if bottom_row else 81,
               background_fill_color="white", border_fill_color="white")
    p.grid.visible = False
    p.outline_line_color = "black"
    p.outline_line_width = 2

    p.scatter(xs, vs, size=3.6, color="black", line_width=0)

    xa = p.xaxis[0]
    xa.ticker = FixedTicker(ticks=tick_months, minor_ticks=[])
    xa.major_tick_in = 13
    xa.major_tick_out = 0
    xa.minor_tick_in = 0
    xa.minor_tick_out = 0
    xa.major_tick_line_width = 1.5
    xa.axis_line_width = 2
    xa.major_label_text_font_size = "1px"
    xa.major_label_text_color = None
    xa.major_label_standoff = 0
    xa.axis_label = x_tick_text
    xa.axis_label_text_font = FONT
    xa.axis_label_text_font_size = "32px"
    xa.axis_label_text_font_style = "normal"
    xa.axis_label_text_color = "black"
    xa.axis_label_standoff = 8

    ya = p.yaxis[0]
    ya.major_tick_in = 13
    ya.major_tick_out = 0
    ya.minor_tick_in = 7
    ya.minor_tick_out = 0
    ya.major_tick_line_width = 1.5
    ya.minor_tick_line_width = 1.2
    ya.axis_line_width = 2
    ya.major_label_text_font = FONT
    ya.major_label_text_font_size = "26px"
    ya.major_label_text_color = "black"
    ya.major_label_standoff = 16
    ya.axis_label = y_axis_title
    ya.axis_label_text_font = FONT
    ya.axis_label_text_font_size = "30px"
    ya.axis_label_text_font_style = "normal"
    ya.axis_label_text_color = "black"
    ya.axis_label_standoff = 2

    top = LinearAxis(ticker=FixedTicker(ticks=tick_months, minor_ticks=[]),
                     major_label_text_font_size="1px", major_label_text_color=None,
                     major_label_standoff=0,
                     major_tick_in=13, major_tick_out=0, minor_tick_in=0, minor_tick_out=0,
                     major_tick_line_width=1.5, axis_line_width=2)
    p.add_layout(top, "above")
    right = LogAxis(ticker=LogTicker(),
                    major_label_text_font_size="1px", major_label_text_color=None,
                    major_label_standoff=0,
                    major_tick_in=13, major_tick_out=0, minor_tick_in=7, minor_tick_out=0,
                    major_tick_line_width=1.5, minor_tick_line_width=1.2, axis_line_width=2)
    p.add_layout(right, "right")

    p.add_layout(Label(x=0.62, y=6.0e-6, text=name, text_font=FONT, text_font_size="34px",
                       text_baseline="alphabetic", text_color="black"))

    if bottom_row:
        p.add_layout(Title(text=x_axis_title, align="left", offset=-36, text_font=FONT,
                           text_font_size="31px", text_font_style="normal",
                           text_color="black", standoff=0), "below")
    return p


panels = [make_panel(panel_names[i], panel_data[i], i >= 4, i % 2 == 1) for i in range(6)]
layout = column(row(panels[0], panels[1]), row(panels[2], panels[3]), row(panels[4], panels[5]))

with open("out.html", "w") as f:
    f.write(file_html(layout, INLINE, "seismic v_x"))
